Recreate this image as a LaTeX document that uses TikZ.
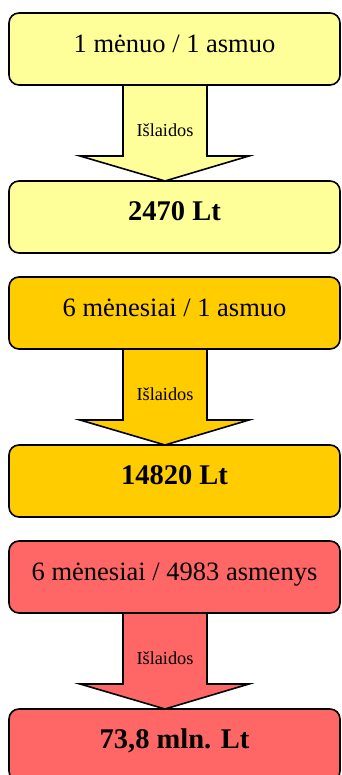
\documentclass[tikz,border=0pt]{standalone}
\usepackage{fontspec}
\setmainfont{Liberation Serif}
\usetikzlibrary{positioning, calc, backgrounds}
\definecolor{paleyellow}{HTML}{FFFF99}
\definecolor{gold}{HTML}{FFCC00}
\definecolor{salmon}{HTML}{FF6666}

\begin{document}
\begin{tikzpicture}[x=1pt,y=1pt,
	box/.style={rectangle,rounded corners=10pt,draw,line width=1.6pt,minimum width=331pt,minimum height=72pt,inner sep=0pt,outer sep=0pt,text height=17pt,text depth=10pt,font=\fontsize{26.5}{30}\selectfont},
	sum/.style={box,font=\fontsize{28.5}{32}\selectfont\bfseries},
	flow/.style={draw,line width=1.6pt},
	flow label/.style={font=\fontsize{18.3}{20}\selectfont,inner sep=0pt},
	node distance=96pt]
	\useasboundingbox (0,0) rectangle (341,775);
	\node[box,fill=paleyellow] (1) at (174.5,726) {1 mėnuo / 1 asmuo};
	\node[sum,fill=paleyellow] (2) [below=of 1] {2470 Lt};
	\node[box,fill=gold] (3) [below=24pt of 2] {6 mėnesiai / 1 asmuo};
	\node[sum,fill=gold] (4) [below=of 3] {14820 Lt};
	\node[box,fill=salmon] (5) [below=24pt of 4] {6 mėnesiai / 4983 asmenys};
	\node[sum,fill=salmon] (6) [below=of 5] {73,8 mln. Lt};

	% block arrows between the pairs
	\begin{scope}[on background layer]
	\foreach \a/\b/\c in {1/2/paleyellow,3/4/gold,5/6/salmon}
		\draw[flow,fill=\c] let \p1=(\a.south), \p2=(\b.north) in
		(\x1-51.5pt,\y1) -- (\x1-51.5pt,\y2+25pt) -- (\x1-94.5pt,\y2+25pt) -- (\x1-9.5pt,\y2)
		-- (\x1+74.5pt,\y2+25pt) -- (\x1+32.5pt,\y2+25pt) -- (\x1+32.5pt,\y1);
	\end{scope}
	\foreach \a/\b in {1/2,3/4,5/6}
		\node[flow label] (\a-\b) at ($(\a.south)!0.5!(\b.north)+(-9.5,3)$) {Išlaidos};
\end{tikzpicture}
\end{document}
